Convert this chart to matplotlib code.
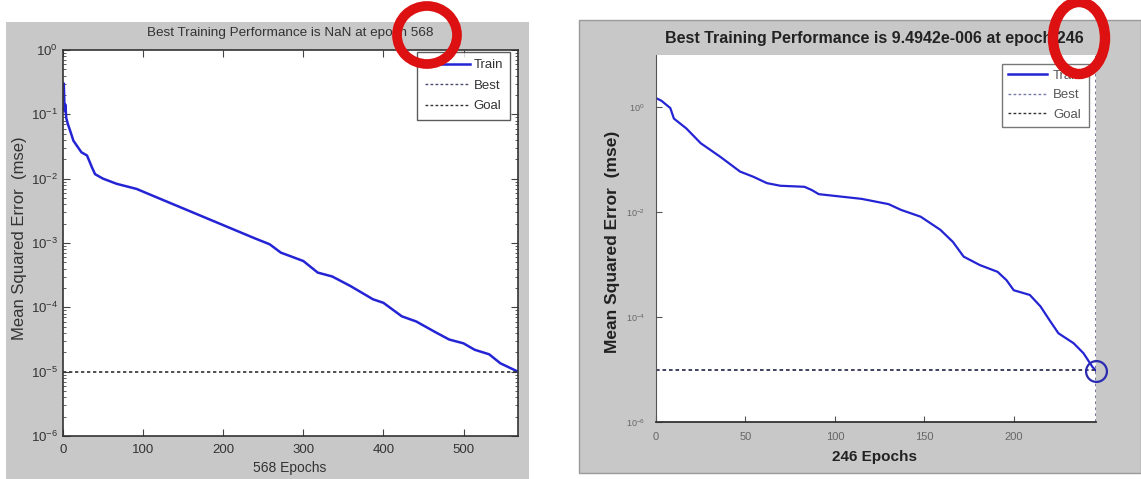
import numpy as np
import matplotlib
matplotlib.use("Agg")
import matplotlib.pyplot as plt
from matplotlib.patches import Rectangle, Ellipse
from matplotlib.lines import Line2D

plt.rcParams['font.family'] = ['Liberation Sans', 'DejaVu Sans']

# ---- data ----
# left run: 568 epochs, goal 1e-5
left_epochs = [0, 1, 2, 3, 4, 6, 8, 13, 18, 23, 30, 36, 40, 50, 67, 92, 113, 138,
               163, 188, 213, 238, 258, 272, 300, 318, 336, 359, 387, 400, 423,
               441, 464, 482, 500, 514, 532, 546, 568]
left_log_mse = [-0.75, -0.52, -0.95, -0.85, -1.05, -1.15, -1.22, -1.41, -1.5, -1.59,
                -1.64, -1.82, -1.93, -2.0, -2.08, -2.16, -2.27, -2.40, -2.53, -2.66,
                -2.79, -2.92, -3.02, -3.15, -3.28, -3.46, -3.52, -3.67, -3.875, -3.93,
                -4.14, -4.22, -4.38, -4.5, -4.56, -4.66, -4.73, -4.87, -5.0]
left_goal = 1e-5
left_title = 'Best Training Performance is NaN at epoch 568'
left_xlabel = '568 Epochs'

# right run: 246 epochs, best 9.4942e-6
right_epochs = [0, 3, 8, 10, 17, 25, 36, 47, 54.5, 62, 69.5, 83, 87, 91, 115, 130,
                137, 148, 159, 166, 172, 181, 191, 196, 200, 209, 215, 220, 225,
                233.5, 239, 244, 246]
right_log_mse = [0.17, 0.12, -0.02, -0.22, -0.41, -0.69, -0.95, -1.23, -1.33, -1.45,
                 -1.50, -1.52, -1.58, -1.66, -1.75, -1.85, -1.96, -2.09, -2.34, -2.57,
                 -2.85, -3.01, -3.14, -3.30, -3.49, -3.58, -3.80, -4.06, -4.31, -4.50,
                 -4.69, -4.95, -5.0226]
right_best_epoch = 246
right_best_perf = 9.4942e-6
right_goal = 1e-5
right_title = 'Best Training Performance is 9.4942e-006 at epoch 246'
right_xlabel = '246 Epochs'

ylabel = 'Mean Squared Error  (mse)'

W, H = 1141, 479
fig = plt.figure(figsize=(W / 100, H / 100), dpi=100)
fig.patch.set_facecolor('white')


def fx(px):
    return px / W


def fy(py):
    # py measured from the top of the picture
    return 1 - py / H


gray = '#c8c8c8'
blue = '#2424d4'

# panel backgrounds
fig.patches.append(Rectangle((fx(6), 0), fx(523), 1 - 22 / H, transform=fig.transFigure,
                             facecolor=gray, edgecolor='none', zorder=-5))
fig.patches.append(Rectangle((fx(579), fy(473)), fx(562), (473 - 20) / H,
                             transform=fig.transFigure, facecolor=gray,
                             edgecolor='#9a9a9a', lw=1, zorder=-5))

# ---- left panel ----
axl = fig.add_axes([fx(63), fy(436), fx(455), (436 - 50) / H], zorder=2)
axl.plot(left_epochs, 10 ** np.array(left_log_mse), color=blue, lw=1.8)
axl.axhline(left_goal, color='#333333', lw=1.2, ls=(0, (2, 1.6)))
axl.set_yscale('log')
axl.set_xlim(0, 568)
axl.set_ylim(1e-6, 1)
axl.set_xticks([0, 100, 200, 300, 400, 500])
axl.set_yticks([10.0 ** k for k in range(-6, 1)])
axl.tick_params(which='both', direction='in', top=True, right=True,
                labelsize=9.5, labelcolor='#333333', color='#444444')
axl.tick_params(which='major', length=5)
axl.tick_params(which='minor', length=2.5)
axl.tick_params(axis='x', pad=6)
for s in axl.spines.values():
    s.set_color('#333333')
    s.set_linewidth(1.2)
hl = [Line2D([], [], color=blue, lw=1.8),
      Line2D([], [], color='#4a4a70', lw=1, ls=(0, (2, 1.6))),
      Line2D([], [], color='#333333', lw=1, ls=(0, (2, 1.6)))]
leg = axl.legend(hl, ['Train', 'Best', 'Goal'], loc='upper right',
                 bbox_to_anchor=(0.983, 0.995), fontsize=9.5, frameon=True,
                 fancybox=False, handlelength=3.4, handletextpad=0.3,
                 borderpad=0.55, labelspacing=0.62, borderaxespad=0)
leg.get_frame().set_edgecolor('#333333')
leg.get_frame().set_linewidth(1)
for t in leg.get_texts():
    t.set_color('#333333')

fig.text(fx(290), fy(33), left_title, ha='center', va='center', fontsize=9.7,
         color='#333333')
fig.text(fx(290), fy(468), left_xlabel, ha='center', va='center', fontsize=10,
         color='#333333')
fig.text(fx(20), fy(238), ylabel, ha='center', va='center', rotation=90,
         fontsize=12, color='#333333')

# ---- right panel ----
axr = fig.add_axes([fx(656), fy(422), fx(440), (422 - 54.5) / H], zorder=2)
axr.plot(right_epochs, 10 ** np.array(right_log_mse), color=blue, lw=1.6)
axr.axhline(right_goal, color='#333355', lw=1.3, ls=(0, (2, 1.6)))
axr.axvline(right_best_epoch, color='#6a6a90', lw=1.3, ls=(0, (1.5, 1.8)))
axr.plot([right_best_epoch], [right_best_perf], 'o', mfc='none', mec='#2a2ab0',
         mew=1.6, ms=15, clip_on=False)
axr.set_yscale('log')
axr.set_xlim(0, 246)
axr.set_ylim(1e-6, 10)
axr.set_xticks([0, 50, 100, 150, 200])
axr.set_yticks([1, 1e-2, 1e-4, 1e-6])
axr.minorticks_off()
axr.tick_params(direction='in', length=4, labelsize=8, labelcolor='#666666',
                color='#555555')
axr.tick_params(axis='y', pad=8, labelsize=6.5)
axr.tick_params(axis='x', pad=7)
axr.spines['top'].set_visible(False)
axr.spines['right'].set_visible(False)
axr.spines['left'].set_color('#555555')
axr.spines['bottom'].set_color('#333333')
axr.spines['bottom'].set_linewidth(1.3)
hr = [Line2D([], [], color=blue, lw=1.8),
      Line2D([], [], color='#7a7aa8', lw=1, ls=(0, (2, 1.6))),
      Line2D([], [], color='#333333', lw=1, ls=(0, (2, 1.6)))]
legr = axr.legend(hr, ['Train', 'Best', 'Goal'], loc='upper right',
                  bbox_to_anchor=(0.983, 0.975), fontsize=9.5, frameon=True,
                  fancybox=False, handlelength=3.0, handletextpad=0.45,
                  borderpad=0.45, labelspacing=0.55, borderaxespad=0)
legr.get_frame().set_edgecolor('#555555')
legr.get_frame().set_linewidth(1)
for t in legr.get_texts():
    t.set_color('#555555')

fig.text(fx(874), fy(38), right_title, ha='center', va='center', fontsize=11.5,
         fontweight='bold', color='#222222')
fig.text(fx(875), fy(457), right_xlabel, ha='center', va='center', fontsize=11,
         fontweight='bold', color='#222222')
fig.text(fx(612), fy(242), ylabel, ha='center', va='center', rotation=90,
         fontsize=12.5, fontweight='bold', color='#222222')

# red annotation rings, drawn above both panels
red = '#dd1111'
rings = [((427, 35), 60, 58, 7), ((1079, 38), 52, 72, 7.5)]
for (cx, cy), w, h, lw in rings:
    fig.add_artist(Ellipse((fx(cx), fy(cy)), fx(w), h / H, transform=fig.transFigure,
                           facecolor='none', edgecolor=red, lw=lw, zorder=10))

fig.savefig('out.png', dpi=100)
